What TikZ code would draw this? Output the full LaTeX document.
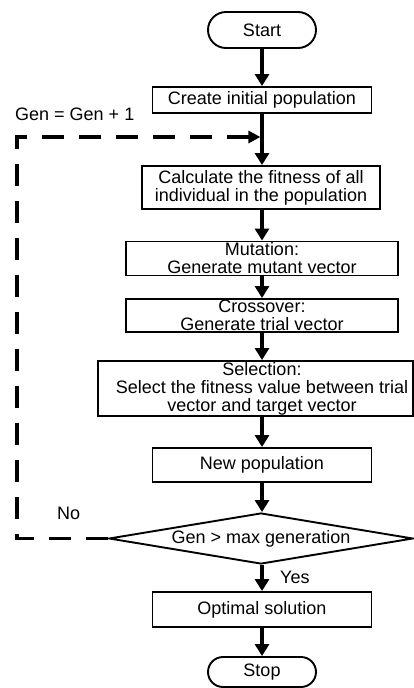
\documentclass[tikz,border=0pt]{standalone}
\usepackage{fontspec}
\setmainfont{Liberation Sans}
\usetikzlibrary{arrows.meta,shapes.geometric,shapes.misc}
\begin{document}
\begin{tikzpicture}[x=1pt,y=-1pt,
  font=\fontsize{18}{18}\selectfont,
  boxline/.style={draw, line width=1.9pt},
  procbox/.style={boxline, rectangle, inner sep=0pt},
  termbox/.style={boxline, rounded rectangle, inner sep=0pt, minimum width=108pt},
  decbox/.style={boxline, diamond, inner sep=0pt},
  txt/.style={align=center, inner sep=0pt},
  flow/.style={line width=3.2pt, -{Triangle[length=12pt,width=14pt]}},
  loopback/.style={line width=3.2pt, line join=miter, dash pattern=on 22pt off 15pt, -{Triangle[length=12pt,width=12pt]}},
  lbl/.style={inner sep=0pt, anchor=base west},
]
\useasboundingbox (0,0) rectangle (414,688);

\node[termbox, minimum height=36pt] (start) at (262,30) {Start};
\node[procbox, minimum width=219pt, minimum height=26pt] (create) at (262,100) {Create initial population};
\node[procbox, minimum width=238pt, minimum height=43pt] (calc) at (261,187.5) {};
\node[txt] (calcT) at (calc.center) {Calculate the fitness of all\\individual in the population};
\node[procbox, minimum width=272pt, minimum height=34pt] (mut) at (262,258.5) {};
\node[txt] (mutT) at (mut.center) {Mutation:\\Generate mutant vector};
\node[procbox, minimum width=272pt, minimum height=33pt] (cross) at (262,315.5) {};
\node[txt] (crossT) at (cross.center) {Crossover:\\Generate trial vector};
\node[procbox, minimum width=315pt, minimum height=55pt] (sel) at (255.5,388.5) {};
\node[txt] (selT) at (262,388.5) {Selection:\\Select the fitness value between trial\\vector and target vector};
\node[procbox, minimum width=219pt, minimum height=34pt] (newpop) at (262,465) {New population};
\node[decbox, minimum width=304pt, minimum height=51pt] (dec) at (261,538.5) {};
\node[txt] (decT) at (dec.center) {Gen > max generation};
\node[procbox, minimum width=219pt, minimum height=35pt] (opt) at (262,609.5) {Optimal solution};
\node[termbox, minimum height=30pt] (stop) at (262,672) {Stop};

\node[lbl] (genlbl) at (15,120) {Gen = Gen + 1};
\node[lbl] (nolbl) at (57,519.5) {No};
\node[lbl] (yeslbl) at (280,583) {Yes};

\coordinate (join) at (260.4,137);
\coordinate (cornerB) at (17,538.5);
\coordinate (cornerT) at (17,137);

\draw[flow] (start.south) -- (create.north);
\draw[flow] (create.south) -- (calc.north -| create.south);
\draw[flow] (calc.south -| create.south) -- (mut.north);
\draw[flow] (mut.south) -- (cross.north);
\draw[flow] (cross.south) -- (sel.north -| cross.south);
\draw[flow] (sel.south -| cross.south) -- (newpop.north);
\draw[flow] (newpop.south) -- (dec.north -| newpop.south);
\draw[flow] (dec.south -| newpop.south) -- (opt.north);
\draw[flow] (opt.south) -- (stop.north);
\draw[loopback] (dec.west) -- (cornerB) -- (cornerT) -- (join);
\end{tikzpicture}
\end{document}
